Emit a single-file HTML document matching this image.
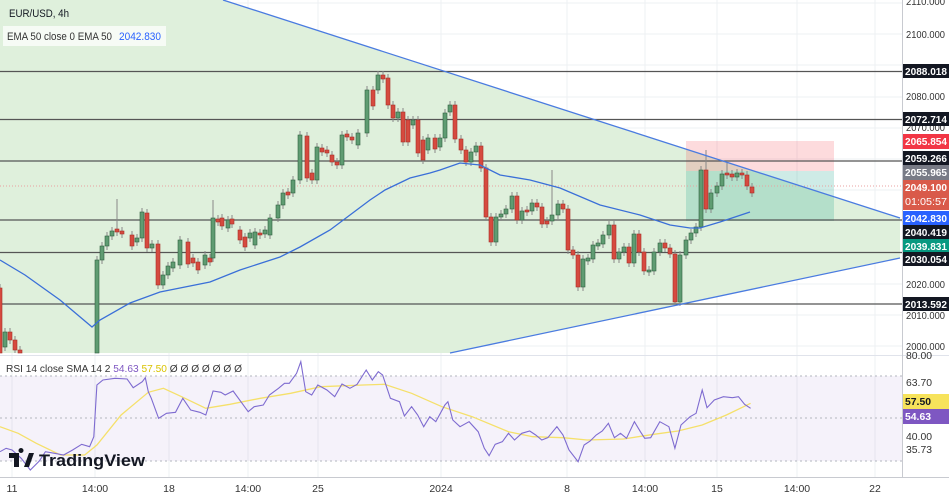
<!DOCTYPE html>
<html><head><meta charset="utf-8"><style>
html,body{margin:0;padding:0;background:#fff;}
body{width:949px;height:499px;overflow:hidden;font-family:"Liberation Sans",sans-serif;}
svg text{font-family:"Liberation Sans",sans-serif;}
</style></head><body>
<svg id="s" width="949" height="499" viewBox="0 0 949 499" xmlns="http://www.w3.org/2000/svg">
<rect width="949" height="499" fill="#fff"/>
<g id="grid" stroke="#eef0f3" stroke-width="1"></g>
<polygon points="0,0 223,0 900,218 900,258 450,353 0,353" fill="#dff0dc"/>
<rect x="686" y="141" width="148" height="30" fill="#f23645" fill-opacity="0.18"/>
<rect x="686" y="171" width="148" height="50" fill="#089981" fill-opacity="0.2"/>
<g stroke="#555" stroke-width="1.3">
<line x1="0" y1="71.5" x2="902" y2="71.5"/><line x1="0" y1="119.5" x2="902" y2="119.5"/>
<line x1="0" y1="161" x2="902" y2="161"/><line x1="0" y1="220" x2="902" y2="220"/>
<line x1="0" y1="252.5" x2="902" y2="252.5"/><line x1="0" y1="304" x2="902" y2="304"/>
</g>
<line x1="0" y1="186" x2="902" y2="186" stroke="#e8a0a0" stroke-width="1" stroke-dasharray="1,2"/>
<g id="candles"></g>
<polyline id="ema" fill="none" stroke="#3a6fd8" stroke-width="1.3"/>
<line x1="223" y1="0" x2="900" y2="218" stroke="#4a7be0" stroke-width="1.3"/>
<line x1="450" y1="353" x2="900" y2="258" stroke="#4a7be0" stroke-width="1.3"/>
<line x1="0" y1="355.5" x2="949" y2="355.5" stroke="#e0e3eb"/>
<rect x="0" y="376" width="902" height="85" fill="#7e57c2" fill-opacity="0.08"/>
<g stroke="#b2b5be" stroke-dasharray="2,3"><line x1="0" y1="376" x2="902" y2="376"/><line x1="0" y1="418" x2="902" y2="418"/><line x1="0" y1="461" x2="902" y2="461"/></g>
<polyline id="sma" fill="none" stroke="#f5e06a" stroke-width="1.3"/>
<polyline id="rsi" fill="none" stroke="#7e6bd0" stroke-width="1.1"/>
<line x1="902.5" y1="0" x2="902.5" y2="477" stroke="#c8cad0"/>
<line x1="0" y1="477.5" x2="949" y2="477.5" stroke="#c8cad0"/>
<g font-size="10.5" fill="#333" id="ylab"></g>
<g font-size="10.5" fill="#333" text-anchor="middle">
<text x="12" y="492">11</text><text x="95" y="492">14:00</text><text x="169" y="492">18</text><text x="248" y="492">14:00</text><text x="318" y="492">25</text><text x="441" y="492">2024</text><text x="567" y="492">8</text><text x="645" y="492">14:00</text><text x="717" y="492">15</text><text x="797" y="492">14:00</text><text x="875" y="492">22</text>
</g>
<g id="tags" font-size="10.5" font-weight="bold" fill="#fff"></g>
<text x="9" y="17" font-size="11" fill="#131722" textLength="60" lengthAdjust="spacingAndGlyphs">EUR/USD, 4h</text>
<rect x="3" y="26" width="163" height="20" fill="#fff" fill-opacity="0.7"/>
<text x="7" y="40" font-size="11" fill="#333" textLength="105" lengthAdjust="spacingAndGlyphs">EMA 50 close 0 EMA 50</text>
<text x="119" y="40" font-size="11" fill="#2962ff" textLength="42" lengthAdjust="spacingAndGlyphs">2042.830</text>
<text x="6" y="372" font-size="10" fill="#333" textLength="236" lengthAdjust="spacingAndGlyphs">RSI 14 close SMA 14 2 <tspan fill="#7e57c2">54.63</tspan> <tspan fill="#d9c300">57.50</tspan> Ø Ø Ø Ø Ø Ø Ø</text>
<g transform="translate(9,453)">
<path d="M0,0 h10 v14 h-5 v-9 h-5z M12,0 a2.5,2.5 0 1,1 0.01,0 M15,14 l5,-14 h5 l-5,14z" fill="#131722"/>
<text x="30" y="13" font-size="17" font-weight="bold" fill="#131722" textLength="106" lengthAdjust="spacingAndGlyphs">TradingView</text>
</g>
</svg>
<script>
const NS="http://www.w3.org/2000/svg";
function el(p,t,a,txt){const e=document.createElementNS(NS,t);for(const k in a)e.setAttribute(k,a[k]);if(txt!=null)e.textContent=txt;p.appendChild(e);return e;}
const grid=document.getElementById('grid');
[12,95,169,248,318,441,567,645,717,797,875].forEach(x=>el(grid,'line',{x1:x,y1:0,x2:x,y2:477}));
[3,34,65,97,128,159,190,221,253,284,315,346].forEach(y=>el(grid,'line',{x1:0,y1:y,x2:902,y2:y}));
const yl=document.getElementById('ylab');
[[2110,5],[2100,38],[2080,100],[2070,131],[2020,288],[2010,319],[2000,350]].forEach(([v,y])=>el(yl,'text',{x:906,y:y,textLength:39,lengthAdjust:'spacingAndGlyphs'},v+'.000'));
[['80.00',359],['63.70',386],['40.00',440],['35.73',453]].forEach(([v,y])=>el(yl,'text',{x:906,y:y,textLength:26,lengthAdjust:'spacingAndGlyphs'},v));
const C=[[0,288,353,'r'],[5,332,347,'g'],[10,332,340,'r'],[15,340,350,'r'],[20,350,353,'r'],
[97,260,353,'g'],[102,246,260,'g'],[107,236,246,'g'],[112,231,236,'g'],[117,229,232,'r',30],[122,231,234,'r'],[132,235,246,'r'],[137,238,242,'g'],[142,212,238,'g'],[147,213,248,'r'],[152,244,248,'g'],[158,244,285,'r'],[163,275,285,'g'],[168,266,275,'g'],[173,262,268,'g'],[180,240,265,'g'],[188,242,264,'r'],[193,258,263,'r'],[198,262,270,'r'],[205,255,265,'g'],[210,258,262,'r'],[213,218,258,'g',18],[218,219,222,'r'],[222,218,226,'r'],[228,220,228,'g'],[232,219,224,'r'],[240,230,240,'r'],[245,237,247,'r'],[250,233,238,'g'],[255,232,245,'g'],[260,233,235,'r'],[265,230,234,'g'],[270,218,235,'g'],[278,205,218,'g'],[283,193,205,'g'],[288,192,195,'r'],[293,180,193,'g'],[300,135,180,'g'],[307,136,178,'r'],[312,173,180,'r'],[317,147,180,'g'],[322,148,152,'r'],[327,150,153,'r'],[332,155,162,'r'],[337,162,165,'r'],[342,135,165,'g'],[347,134,137,'r'],[352,137,140,'r'],[358,133,145,'g'],[367,90,133,'g'],[373,90,106,'r'],[378,75,90,'g'],[383,75,79,'r'],[388,78,105,'r'],[393,105,118,'r'],[398,112,118,'g'],[403,112,142,'r'],[408,120,142,'r'],[413,120,125,'g'],[418,120,153,'r'],[423,140,160,'r'],[428,138,150,'g'],[435,138,149,'r'],[440,138,147,'g'],[445,113,138,'g'],[450,105,112,'g'],[455,105,139,'r'],[461,139,150,'r'],[466,150,162,'r'],[471,152,162,'g'],[476,146,152,'g'],[481,146,168,'r'],[486,168,217,'r'],[491,217,242,'r'],[496,217,242,'g'],[501,214,217,'g'],[506,209,214,'g'],[512,196,209,'g'],[517,196,220,'r'],[522,211,220,'g'],[527,210,212,'r'],[532,203,211,'g'],[537,203,207,'r'],[542,207,224,'r'],[547,221,224,'r'],[552,215,221,'g',45],[558,204,215,'g'],[563,204,209,'r'],[568,209,250,'r'],[573,250,255,'r'],[578,255,287,'r'],[583,259,287,'g'],[588,258,261,'g'],[593,245,259,'g'],[598,243,246,'g'],[603,235,244,'g'],[609,225,235,'g'],[614,225,259,'r'],[619,252,259,'g'],[624,247,252,'g'],[629,247,263,'r'],[634,234,263,'g'],[639,234,252,'r'],[644,252,271,'r'],[649,270,272,'g'],[654,252,271,'g'],[660,243,252,'g'],[665,243,248,'r'],[670,248,254,'r'],[675,254,302,'r'],[680,255,302,'g'],[686,240,255,'g'],[691,233,240,'g'],[696,227,233,'g'],[701,170,227,'g'],[706,170,209,'r',20],[711,193,209,'g'],[717,186,193,'g'],[722,174,186,'g'],[727,173,175,'r',12],[732,174,177,'r'],[737,173,177,'g'],[742,173,175,'r'],[747,175,186,'r'],[752,187,193,'r']];
const cg=document.getElementById('candles');
C.forEach(([x,t,b,d,he,le])=>{he=he||4;le=le||4;
 const col=d=='g'?'#5f9c72':'#d64a3f', st=d=='g'?'#2f6040':'#a63028';
 el(cg,'line',{x1:x,y1:t-he,x2:x,y2:Math.min(b+le,353),stroke:'#888','stroke-width':1});
 el(cg,'rect',{x:x-2,y:t,width:4,height:Math.max(b-t,1.5),fill:col,stroke:st,'stroke-width':0.6});
});
document.getElementById('ema').setAttribute('points',"0,260 25,275 60,300 92,327 100,320 130,303 160,292 210,282 240,270 280,257 300,247 330,230 370,200 385,190 410,178 430,173 440,170 460,163 480,165 500,175 530,180 560,188 600,205 640,215 670,225 690,228 700,228 720,222 750,212");
const R=[[0,290],[10,280],[20,285],[35,310],[50,345],[65,318],[75,290],[90,295],[105,300],[120,285],[135,268],[148,275],[155,245],[160,90],[170,75],[190,70],[210,72],[220,98],[235,80],[240,68],[245,110],[250,130],[262,190],[275,175],[290,172],[302,130],[315,165],[330,172],[340,180],[352,108],[365,112],[372,120],[385,108],[400,145],[410,170],[420,155],[435,150],[445,120],[460,100],[470,85],[478,85],[490,55],[497,20],[505,110],[515,120],[525,90],[540,105],[553,125],[565,87],[578,100],[590,88],[605,45],[615,75],[625,50],[632,60],[645,130],[660,140],[668,183],[680,155],[690,180],[700,215],[710,185],[720,200],[735,150],[740,140],[748,195],[760,215],[775,200],[790,230],[800,280],[808,302],[818,268],[830,260],[840,235],[850,255],[862,235],[875,228],[885,240],[895,255],[905,248],[920,215],[930,240],[940,285],[955,320],[965,270],[975,258],[985,240],[995,228],[1005,205],[1015,248],[1025,235],[1035,250],[1048,200],[1058,230],[1065,250],[1075,248],[1090,200],[1105,215],[1115,280],[1125,210],[1140,185],[1150,175],[1160,105],[1168,158],[1180,135],[1195,125],[1210,128],[1220,125],[1230,148],[1240,160]];
const S=[[0,215],[30,235],[60,265],[100,300],[140,300],[160,270],[200,180],[245,112],[270,100],[300,125],[340,160],[380,148],[430,130],[480,115],[530,95],[600,90],[635,88],[680,115],[730,155],[780,185],[840,230],[880,245],[930,248],[970,255],[1030,252],[1080,238],[1120,228],[1160,210],[1200,180],[1240,145]];
const tr=a=>a.map(([x,y])=>(x/1.652).toFixed(1)+','+(355+y/3).toFixed(1)).join(' ');
document.getElementById('rsi').setAttribute('points',tr(R));
document.getElementById('sma').setAttribute('points',tr(S));
const tg=document.getElementById('tags');
function tag(y,h,bg,txt,fc,w,txt2){w=w||42;el(tg,'rect',{x:903,y:y,width:46,height:h,fill:bg});el(tg,'text',{x:905,y:y+11,fill:fc||'#fff',textLength:w,lengthAdjust:'spacingAndGlyphs'},txt);if(txt2)el(tg,'text',{x:905,y:y+25,fill:fc||'#fff','font-weight':'normal',textLength:w,lengthAdjust:'spacingAndGlyphs'},txt2);}
tag(64,14,'#131722','2088.018');tag(112,14,'#131722','2072.714');tag(134,15,'#f23645','2065.854');tag(151,14,'#131722','2059.266');tag(165,15,'#787b86','2055.965');
tag(180,30,'#d95a4a','2049.100',null,42,'01:05:57');
tag(211,15,'#2962ff','2042.830');tag(225,14,'#131722','2040.419');tag(239,15,'#089981','2039.831');tag(252,14,'#131722','2030.054');tag(297,14,'#131722','2013.592');
tag(394,15,'#f7e35b','57.50','#131722',26);tag(409,15,'#7e57c2','54.63',null,26);
</script>
</body></html>
